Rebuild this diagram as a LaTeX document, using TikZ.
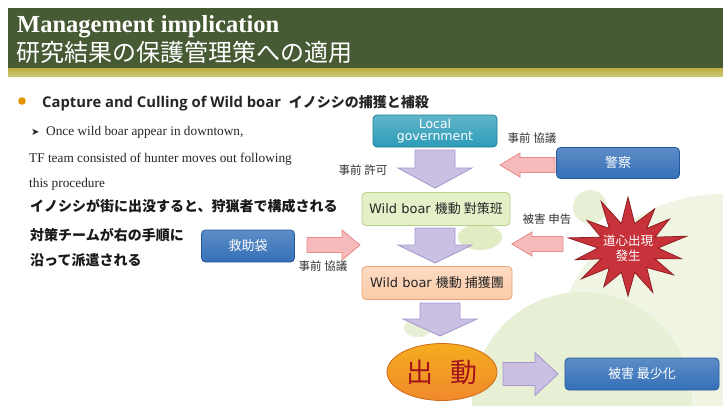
\documentclass[tikz,border=0pt]{standalone}
\usepackage{fontspec}
\setmainfont{Liberation Serif}
\newfontfamily\cjk{Noto Sans CJK JP}
\newfontfamily\sansf{DejaVu Sans}
\newfontfamily\opensans{Open Sans}
\definecolor{headgreen}{HTML}{465A34}
\definecolor{stripe}{HTML}{BAAE3E}
\definecolor{tealc}{HTML}{2C9CB8}
\definecolor{tealb}{HTML}{1E7E96}
\definecolor{bluec}{HTML}{3470B8}
\definecolor{blueb}{HTML}{24589A}
\definecolor{greenc}{HTML}{E4F0C8}
\definecolor{greenb}{HTML}{B6D08C}
\definecolor{peachc}{HTML}{FBCBA8}
\definecolor{peachb}{HTML}{EBA47C}
\definecolor{lavc}{HTML}{C9C0E3}
\definecolor{lavb}{HTML}{A597CC}
\definecolor{pinkc}{HTML}{F6BABA}
\definecolor{pinkb}{HTML}{E68A8A}
\definecolor{orangec}{HTML}{F0892C}
\definecolor{orangeb}{HTML}{D06A18}
\definecolor{dred}{HTML}{A3141A}
\definecolor{starc}{HTML}{C8323A}
\definecolor{starb}{HTML}{8E1E22}
\definecolor{paleg}{HTML}{F0F5E3}
\definecolor{paleg2}{HTML}{E7EFD4}
\definecolor{paleg3}{HTML}{E2ECC4}
\usetikzlibrary{shapes.geometric}
\tikzset{
  boxbase/.style={rounded corners=4pt, inner sep=0pt, align=center, line width=0.8pt},
  tealbox/.style={boxbase, draw=tealb, top color=tealc!75!white, bottom color=tealc, text=white, font=\sansf\fontsize{12.5}{13.5}\selectfont},
  bluebox/.style={boxbase, draw=blueb, top color=bluec!80!white, bottom color=bluec, text=white, font=\cjk\fontsize{13}{15}\selectfont},
  greenbox/.style={boxbase, draw=greenb, fill=greenc, text=black!85, font=\sansf\fontsize{13}{14}\selectfont},
  peachbox/.style={boxbase, draw=peachb, top color=peachc!70!white, bottom color=peachc, text=black!85, font=\sansf\fontsize{13}{14}\selectfont},
  lavarrow/.style={draw=lavb, fill=lavc, line width=0.8pt, line join=miter},
  pinkarrow/.style={draw=pinkb, fill=pinkc, line width=0.8pt, line join=miter},
  lbl/.style={font=\cjk\fontsize{11.5}{12}\selectfont, text=black!80, inner sep=0pt},
  engline/.style={anchor=base west, inner sep=0pt, text=black!85, font=\fontsize{13.3}{15}\selectfont},
  jpline/.style={anchor=base west, inner sep=0pt, text=black!90, font=\cjk\bfseries\fontsize{14}{16}\selectfont},
}
\newcommand{\vdarrow}[7]{\draw[#7] ({#1-#5},#2) -- ({#1+#5},#2) -- ({#1+#5},#3) -- ({#1+#6},#3) -- (#1,#4) -- ({#1-#6},#3) -- ({#1-#5},#3) -- cycle;}
\newcommand{\hzarrow}[7]{\draw[#7] (#1,{#4-#5}) -- (#2,{#4-#5}) -- (#2,{#4-#6}) -- (#3,#4) -- (#2,{#4+#6}) -- (#2,{#4+#5}) -- (#1,{#4+#5}) -- cycle;}
\begin{document}
\begin{tikzpicture}[x=1pt,y=-1pt]
\useasboundingbox (0,0) rectangle (723,405);
\fill[white] (0,0) rectangle (723,405);
% background blobs
\fill[paleg] (722,362) circle (168);
\fill[paleg2] (582,402) circle (110);
\fill[paleg2] (590,207) circle (17);
\fill[paleg3] (480,237) ellipse (22 and 13);
\fill[paleg2] (418,328) ellipse (14 and 9);
% header
\fill[headgreen] (8,8) rectangle (723,68);
\shade[top color=stripe, bottom color=stripe!70!white] (8,68) rectangle (723,76);
\node[anchor=base west, inner sep=0pt, text=white, font=\bfseries\fontsize{24.5}{26}\selectfont] (t1) at (17,32) {Management implication};
\node[anchor=base west, inner sep=0pt, text=white, font=\cjk\fontsize{24}{26}\selectfont] (t2) at (16,61) {研究結果の保護管理策への適用};
% bullet line
\fill[orange!70!yellow!90!black] (22,101) circle (3.8);
\node[anchor=base west, inner sep=0pt, text=black!85, font=\opensans\bfseries\fontsize{14.8}{16}\selectfont] (t3) at (42,107) {Capture and Culling of Wild boar\ \ {\cjk\bfseries\fontsize{14}{16}\selectfont イノシシの捕獲と補殺}};
\node[engline] (t4) at (31,135) {{\sansf\fontsize{10}{10}\selectfont ➤}\ \ Once wild boar appear in downtown,};
\node[engline] (t5) at (29,162) {TF team consisted of hunter moves out following};
\node[engline] (t6) at (29,187) {this procedure};
\node[jpline] (t7) at (30,211) {イノシシが街に出没すると、狩猟者で構成される};
\node[jpline] (t8) at (30,240) {対策チームが右の手順に};
\node[jpline] (t9) at (30,265) {沿って派遣される};
% boxes
\node[tealbox, minimum width=124pt, minimum height=32pt] (gov) at (435,131) {Local\\[-1pt]government};
\node[greenbox, minimum width=148pt, minimum height=33pt] (taisaku) at (436,209) {Wild boar {\cjk 機動 對策班}};
\node[peachbox, minimum width=150pt, minimum height=33pt] (hokaku) at (437,283) {Wild boar {\cjk 機動 捕獲團}};
\node[ellipse, draw=orangeb, line width=0.8pt, top color=orangec!70!yellow, bottom color=orangec, minimum width=110pt, minimum height=57pt, inner sep=0pt, text=dred, font=\cjk\fontsize{27}{29}\selectfont] (shutsudo) at (442,372) {出\hspace{0.6em}動};
\node[bluebox, minimum width=123pt, minimum height=31pt] (keisatsu) at (618,163) {警察};
\node[bluebox, minimum width=93pt, minimum height=32pt] (kyujo) at (248,246) {救助袋};
\node[bluebox, minimum width=154pt, minimum height=32pt] (higai) at (642,374) {被害 最少化};
% star
\draw[draw=starb, fill=starc, line width=0.8pt, line join=miter] plot[samples at={0,...,27}, variable=\k] ({628+(iseven(\k)?(57+5*sin(\k*97)):(30))*cos(\k*360/28+90)},{248+(iseven(\k)?(48+5*sin(\k*131)):(25))*sin(\k*360/28+90)}) -- cycle;
\node[align=center, text=white, inner sep=0pt, font=\cjk\fontsize{12.5}{15}\selectfont] (startxt) at (628,248) {道心出現\\發生};
% arrows
\vdarrow{435}{150}{168}{188}{20}{37}{lavarrow}
\vdarrow{435}{228}{245}{263}{20}{37}{lavarrow}
\vdarrow{440}{303}{319}{336}{20}{37}{lavarrow}
\hzarrow{503}{535}{558}{374}{11.5}{21.5}{lavarrow}
\hzarrow{307}{342}{360}{245}{7.5}{15}{pinkarrow}
\hzarrow{555}{520}{500}{165}{7.5}{12}{pinkarrow}
\hzarrow{563}{532}{512}{244}{7.5}{12}{pinkarrow}
% labels
\node[lbl] (l1) at (363,170) {事前 許可};
\node[lbl] (l2) at (532,138) {事前 協議};
\node[lbl] (l3) at (547,219) {被害 申告};
\node[lbl] (l4) at (323,266) {事前 協議};
\end{tikzpicture}
\end{document}
